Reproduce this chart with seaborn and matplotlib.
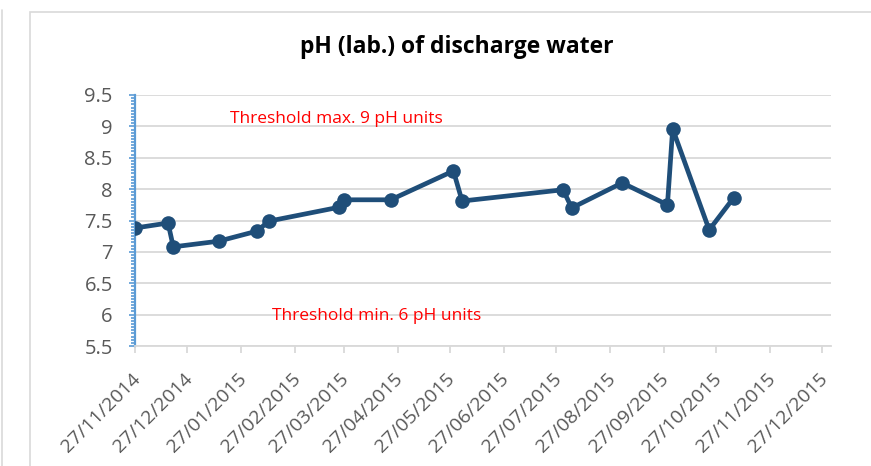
import pandas as pd
import matplotlib
matplotlib.use("Agg")
import matplotlib.pyplot as plt
import matplotlib.dates as mdates
import matplotlib.transforms as mtransforms
from matplotlib.ticker import MultipleLocator
import seaborn as sns

# pH readings taken from the chart
sample_dates = [
    "2014-11-27", "2014-12-16", "2014-12-19", "2015-01-14", "2015-02-05",
    "2015-02-12", "2015-03-24", "2015-03-27", "2015-04-23", "2015-05-29",
    "2015-06-03", "2015-07-31", "2015-08-05", "2015-09-03", "2015-09-29",
    "2015-10-02", "2015-10-23", "2015-11-06",
]
ph_values = [
    7.38, 7.46, 7.08, 7.17, 7.33,
    7.49, 7.71, 7.83, 7.83, 8.29,
    7.81, 7.99, 7.70, 8.10, 7.75,
    8.96, 7.35, 7.86,
]
threshold_max_label = "Threshold max. 9 pH units"
threshold_min_label = "Threshold min. 6 pH units"
chart_title = "pH (lab.) of discharge water"

df = pd.DataFrame({"date": pd.to_datetime(sample_dates), "ph": ph_values})

sns.set_style("white")
plt.rcParams["font.family"] = ["Open Sans", "DejaVu Sans"]

fig = plt.figure(figsize=(8.71, 4.66), dpi=100)
ax = fig.add_axes([135 / 871, 1 - 346 / 466, 696 / 871, 251 / 466])

# chart frame like the spreadsheet object border
fig.patches.append(plt.Rectangle((30 / 871, -0.1), 1.0, 1 - 12 / 466 + 0.1,
                                 transform=fig.transFigure, fill=False,
                                 edgecolor="#D9D9D9", linewidth=1.2, zorder=0))
fig.lines.append(plt.Line2D([2 / 871, 2 / 871], [0, 1 - 10 / 466],
                            transform=fig.transFigure, color="#D9D9D9", linewidth=1.2))

sns.lineplot(data=df, x="date", y="ph", ax=ax, color="#1F4E79",
             linewidth=3.4, marker="o", markersize=10.5, markeredgewidth=0,
             zorder=5)

ax.set_ylim(5.5, 9.5)
ax.set_xlim(pd.Timestamp("2014-11-27"), pd.Timestamp("2016-01-01"))
ax.yaxis.set_major_locator(MultipleLocator(0.5))
ax.yaxis.set_minor_locator(MultipleLocator(0.05))
ax.yaxis.set_major_formatter(plt.FuncFormatter(lambda v, p: f"{v:g}"))
ax.xaxis.set_major_locator(mdates.MonthLocator(bymonthday=27))
ax.xaxis.set_major_formatter(mdates.DateFormatter("%d/%m/%Y"))

ax.grid(axis="y", color="#D9D9D9", linewidth=1.3)
ax.grid(axis="x", visible=False)
for s in ["top", "right"]:
    ax.spines[s].set_visible(False)
ax.spines["left"].set_color("#5B9BD5")
ax.spines["left"].set_linewidth(1.6)
ax.spines["bottom"].set_color("#D9D9D9")
ax.spines["bottom"].set_linewidth(1.3)

ax.tick_params(axis="y", which="both", left=True, color="#5B9BD5",
               width=1.2, labelsize=14.5, labelcolor="#595959")
ax.tick_params(axis="y", which="major", length=4, pad=12)
ax.tick_params(axis="y", which="minor", length=3)
ax.tick_params(axis="x", bottom=True, length=5, width=1.3, color="#D9D9D9",
               labelsize=14, labelcolor="#595959", pad=12)
shift = mtransforms.ScaledTranslation(-4 / 100, 0, fig.dpi_scale_trans)
for lbl in ax.get_xticklabels():
    lbl.set_rotation(45)
    lbl.set_ha("right")
    lbl.set_rotation_mode("anchor")
    lbl.set_transform(lbl.get_transform() + shift)

ax.set_xlabel("")
ax.set_ylabel("")

trans = mtransforms.blended_transform_factory(ax.transAxes, ax.transData)
ax.text((230 - 135) / 696, 9.11, threshold_max_label, transform=trans,
        color="#FF0000", fontsize=12.5, va="center", ha="left")
ax.text((272 - 135) / 696, 5.98, threshold_min_label, transform=trans,
        color="#FF0000", fontsize=12.5, va="center", ha="left")

fig.text(457 / 871, 1 - 47 / 466, chart_title, ha="center", va="center",
         fontsize=16.5, fontweight="bold", color="#000000")

fig.savefig("out.png", dpi=100)
